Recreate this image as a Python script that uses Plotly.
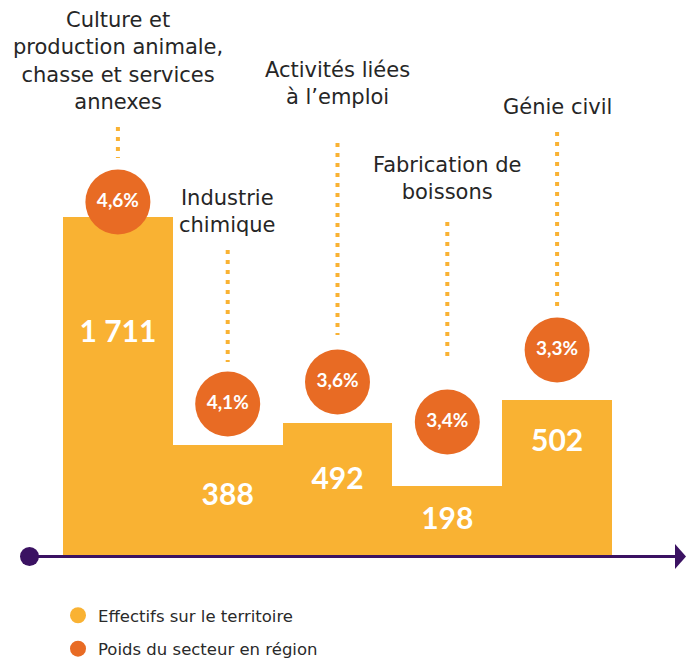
import plotly.graph_objects as go

# ---- data ----
sectors = [
    "Culture et<br>production animale,<br>chasse et services<br>annexes",
    "Industrie<br>chimique",
    "Activités liées<br>à l’emploi",
    "Fabrication de<br>boissons",
    "Génie civil",
]
effectifs = [1711, 388, 492, 198, 502]
effectifs_labels = ["1 711", "388", "492", "198", "502"]
poids = [4.6, 4.1, 3.6, 3.4, 3.3]
poids_labels = ["4,6%", "4,1%", "3,6%", "3,4%", "3,3%"]
legend_names = ["Effectifs sur le territoire", "Poids du secteur en région"]

# ---- stylised layout (pictogram heights as drawn in the infographic) ----
bar_height = [338, 110, 132, 69, 155]
value_y = [221, 58, 74, 34, 112]
circle_y = [353, 151, 173, 133, 205]
conn_top = [428, 305, 412, 333, 423]
conn_bot = [397, 193, 220, 194, 248]
label_y = [439, 316, 444, 349, 434]

YEL = "#F9B233"
ORA = "#E86B24"
PUR = "#3B1262"
FONT = "DejaVu Sans"

W, H = 686, 659
x = list(range(len(sectors)))

fig = go.Figure()

# bars
fig.add_trace(go.Bar(
    x=x, y=bar_height, width=1.0, marker=dict(color=YEL, line=dict(width=0)),
    showlegend=False, hoverinfo="skip",
    customdata=effectifs,
))

# connectors
for i in x:
    fig.add_trace(go.Scatter(
        x=[i, i], y=[conn_top[i], conn_bot[i]], mode="lines",
        line=dict(color=YEL, width=4, dash="4px,6px"),
        showlegend=False, hoverinfo="skip"))

# circles
fig.add_trace(go.Scatter(
    x=x, y=circle_y, mode="markers+text",
    marker=dict(size=65, color=ORA, line=dict(width=0)),
    text=poids_labels, textposition="middle center",
    textfont=dict(family="Lato", size=19, color="white", weight="bold"),
    showlegend=False, hoverinfo="skip", customdata=poids))

# value labels in bars
fig.add_trace(go.Scatter(
    x=x, y=value_y, mode="text", text=effectifs_labels,
    textfont=dict(family="Lato", size=30, color="white", weight="bold"),
    showlegend=False, hoverinfo="skip"))

# legend entries
fig.add_trace(go.Scatter(x=[None], y=[None], mode="markers", name=legend_names[0],
                         marker=dict(size=18, color=YEL), legendgroup="a"))
fig.add_trace(go.Scatter(x=[None], y=[None], mode="markers", name=legend_names[1],
                         marker=dict(size=18, color=ORA), legendgroup="b"))

# sector labels
for i in x:
    fig.add_annotation(x=i, y=label_y[i], text=sectors[i], showarrow=False,
                       yanchor="bottom", xanchor="center", align="center",
                       font=dict(family=FONT, size=21, color="#262626"))

# axis line with dot and arrow (paper coords)
fig.add_shape(type="line", xref="paper", yref="y", x0=29 / W, x1=680 / W, y0=-1.5, y1=-1.5,
              line=dict(color=PUR, width=3), layer="above")
fig.add_shape(type="circle", xref="paper", yref="y", x0=20 / W, x1=39 / W, y0=-11, y1=8,
              fillcolor=PUR, line=dict(width=0), layer="above")
fig.add_shape(type="path", xref="paper", yref="y",
              path=f"M {675/W} 11 L {686/W} -1.5 L {675/W} -14 Z",
              fillcolor=PUR, line=dict(width=0), layer="above")

fig.update_layout(
    width=W, height=H, margin=dict(l=0, r=0, t=0, b=0, autoexpand=False),
    paper_bgcolor="white", plot_bgcolor="white",
    xaxis=dict(range=[-1.0738, 5.174], visible=False, fixedrange=True),
    yaxis=dict(range=[-104, 555], visible=False, fixedrange=True),
    bargap=0,
    legend=dict(x=58 / W, y=1 - 598 / H, xanchor="left", yanchor="top",
                font=dict(family=FONT, size=16.5, color="#2a2a2a"),
                tracegroupgap=9, itemsizing="trace"),
    showlegend=True,
)

fig.write_html("out.html", config={"displayModeBar": False},
               post_script="document.body.style.margin='0';document.body.style.overflow='hidden';")
